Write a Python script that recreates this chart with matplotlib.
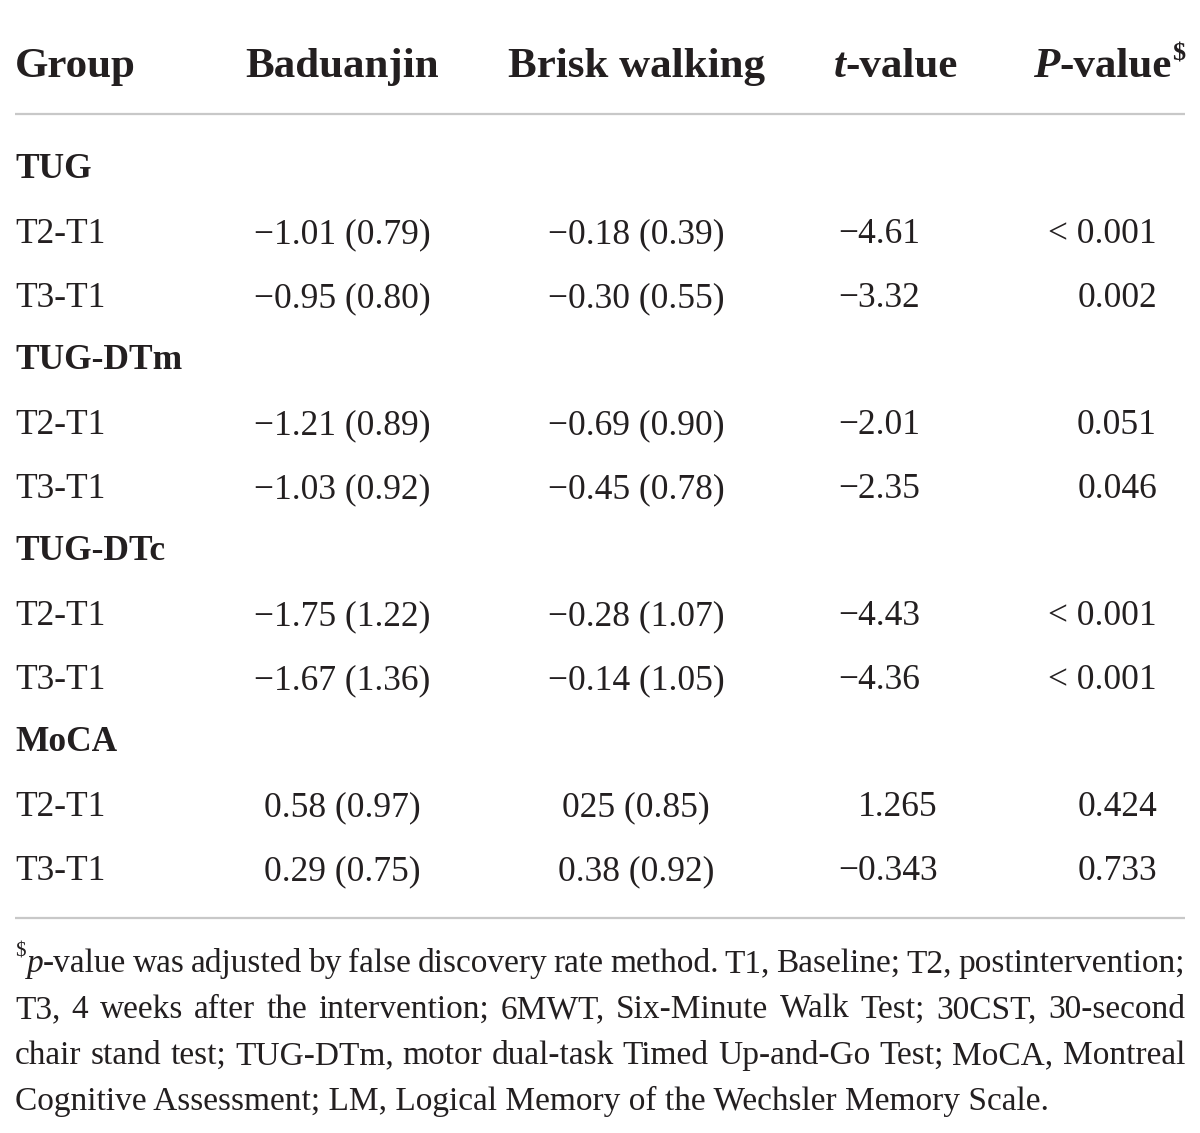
import matplotlib
matplotlib.use("Agg")
import matplotlib.pyplot as plt

# table content
headers = ["Group", "Baduanjin", "Brisk walking", "t-value", "P-value"]
sections = ["TUG", "TUG-DTm", "TUG-DTc", "MoCA"]
periods = ["T2-T1", "T3-T1"]
baduanjin = [
    ["−1.01 (0.79)", "−0.95 (0.80)"],
    ["−1.21 (0.89)", "−1.03 (0.92)"],
    ["−1.75 (1.22)", "−1.67 (1.36)"],
    ["0.58 (0.97)", "0.29 (0.75)"],
]
brisk_walking = [
    ["−0.18 (0.39)", "−0.30 (0.55)"],
    ["−0.69 (0.90)", "−0.45 (0.78)"],
    ["−0.28 (1.07)", "−0.14 (1.05)"],
    ["025 (0.85)", "0.38 (0.92)"],
]
t_values = [
    ["−4.61", "−3.32"],
    ["−2.01", "−2.35"],
    ["−4.43", "−4.36"],
    ["1.265", "−0.343"],
]
p_values = [
    ["< 0.001", "0.002"],
    ["0.051", "0.046"],
    ["< 0.001", "< 0.001"],
    ["0.424", "0.733"],
]
footnote = [
    "p-value was adjusted by false discovery rate method. T1, Baseline; T2, postintervention;",
    "T3, 4 weeks after the intervention; 6MWT, Six-Minute Walk Test; 30CST, 30-second",
    "chair stand test; TUG-DTm, motor dual-task Timed Up-and-Go Test; MoCA, Montreal",
    "Cognitive Assessment; LM, Logical Memory of the Wechsler Memory Scale.",
]

FONT = "Liberation Serif"
INK = "#231f20"
RULE = "#c8c8c8"
W, H = 1200, 1133

fig = plt.figure(figsize=(W / 100, H / 100), dpi=100)
ax = fig.add_axes([0, 0, 1, 1])
ax.set_xlim(0, W)
ax.set_ylim(H, 0)
ax.axis("off")
renderer = fig.canvas.get_renderer()


def put(x, y, s, size, weight="normal", style="normal", ha="left"):
    return ax.text(x, y, s, fontsize=size, fontweight=weight, fontstyle=style,
                   family=FONT, color=INK, ha=ha, va="baseline")


def width(s, size, weight="normal", style="normal"):
    t = put(0, 0, s, size, weight, style)
    w = t.get_window_extent(renderer).width
    t.remove()
    return w


def justify(x0, x1, y, line, size):
    words = line.split(" ")
    widths = [width(w, size) for w in words]
    gap = (x1 - x0 - sum(widths)) / (len(words) - 1)
    x = x0
    for w, wd in zip(words, widths):
        put(x, y, w, size)
        x += wd + gap


left, right = 15, 1185
HEAD = 31
BODY = 25.5
NOTE = 24

# header
y_head = 77
put(left, y_head, headers[0], HEAD, "bold")
put(342, y_head, headers[1], HEAD, "bold", ha="center")
put(636, y_head, headers[2], HEAD, "bold", ha="center")
tw = width("t", HEAD, "bold", "italic")
vw = width(headers[3][1:], HEAD, "bold")
x_t = 896 - (tw + vw) / 2
put(x_t, y_head, "t", HEAD, "bold", "italic")
put(x_t + tw, y_head, headers[3][1:], HEAD, "bold")
sw = width("$", 19, "bold")
pw = width("P", HEAD, "bold", "italic")
rw = width(headers[4][1:], HEAD, "bold")
x_p = right - sw - rw - pw
put(x_p, y_head, "P", HEAD, "bold", "italic")
put(x_p + pw, y_head, headers[4][1:], HEAD, "bold")
put(right - sw, y_head - 16, "$", 19, "bold")

ax.plot([left, right], [114, 114], color=RULE, lw=1.6, solid_capstyle="butt")

# body
minus_w = width("−", BODY)
y = 178
for i, sec in enumerate(sections):
    put(left, y, sec, BODY, "bold")
    y += 65
    for j, per in enumerate(periods):
        put(left, y, per, BODY)
        put(342, y, baduanjin[i][j], BODY, ha="center")
        put(636, y, brisk_walking[i][j], BODY, ha="center")
        tv = t_values[i][j]
        put(838 + (0 if tv.startswith("−") else minus_w), y, tv, BODY)
        put(1157, y, p_values[i][j], BODY, ha="right")
        y += 64
    y -= 2

ax.plot([left, right], [918, 918], color=RULE, lw=1.6, solid_capstyle="butt")

# footnote
y_note = 972
dw = width("$", 15)
put(left, y_note - 15, "$", 15)
pw = width("p", NOTE, style="italic")
put(left + dw + 1, y_note, "p", NOTE, style="italic")
justify(left + dw + 1 + pw, right, y_note, footnote[0][1:], NOTE)
for k, line in enumerate(footnote[1:], start=1):
    yy = y_note + 46 * k
    if k < len(footnote) - 1:
        justify(left, right, yy, line, NOTE)
    else:
        put(left, yy, line, NOTE)

fig.savefig("out.png", dpi=100, facecolor="white")
